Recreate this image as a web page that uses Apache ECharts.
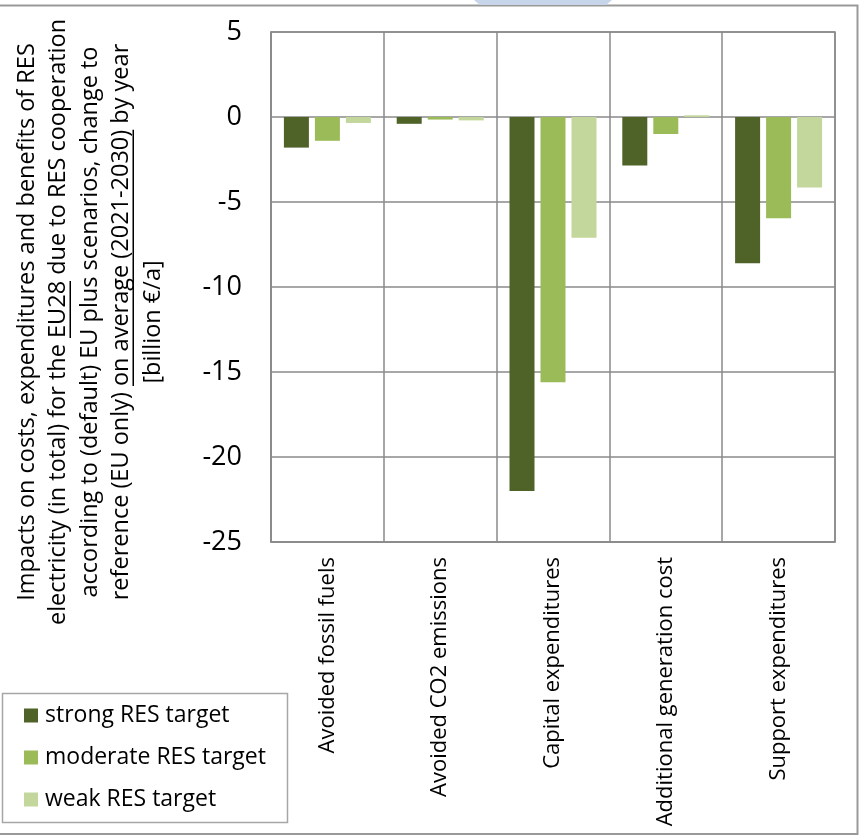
<!DOCTYPE html>
<html>
<head>
<meta charset="utf-8">
<script src="https://cdn.jsdelivr.net/npm/echarts@6/dist/echarts.min.js"></script>
<style>
  html, body { margin: 0; padding: 0; background: #ffffff; }
  #chart { width: 860px; height: 836px; }
</style>
</head>
<body>
<div id="chart"></div>
<script>
// Cost / benefit categories on the x axis
const categories = [
  'Avoided fossil fuels',
  'Avoided CO2 emissions',
  'Capital expenditures',
  'Additional generation cost',
  'Support expenditures'
];

// Scenario names (legend)
const seriesNames = ['strong RES target', 'moderate RES target', 'weak RES target'];

// Change to reference, billion €/a
const strongValues   = [-1.8, -0.4, -22.0, -2.85, -8.6];
const moderateValues = [-1.4, -0.15, -15.6, -1.0, -5.95];
const weakValues     = [-0.35, -0.2, -7.1, 0.1, -4.15];

// Value axis ticks
const yMin = -25;
const yMax = 5;
const yStep = 5;

// Axis title, one entry per line; underlined fragment per line (or null)
const titleLines = [
  'Impacts on costs, expenditures and benefits of RES',
  'electricity (in total) for the EU28 due to RES cooperation',
  'according to (default) EU plus scenarios, change to',
  'reference (EU only) on average (2021-2030) by year',
  '[billion €/a]'
];
const titleUnderlines = [null, 'EU28', null, 'on average (2021-2030)', null];

const palette = ['#4F6228', '#9BBB59', '#C3D69B'];
const FONT = '"Open Sans", "Noto Sans", sans-serif';
const GRID_COLOR = '#8a8a8a';

const chart = echarts.init(document.getElementById('chart'), null, { renderer: 'canvas' });

// Rotated multi-line axis title with underlined fragments
const titleFontSize = 23.5;
const titleFont = titleFontSize + 'px ' + FONT;
const measureCtx = document.createElement('canvas').getContext('2d');
measureCtx.font = titleFont;
const lineOffsets = [27, 58.5, 90, 121.5, 153];
const titleChildren = [];
titleLines.forEach(function (line, i) {
  const ly = lineOffsets[i];
  titleChildren.push({
    type: 'text',
    x: 0,
    y: ly,
    style: {
      text: line,
      font: titleFont,
      fill: '#000000',
      align: 'center',
      verticalAlign: 'middle'
    }
  });
  const part = titleUnderlines[i];
  if (part) {
    const full = measureCtx.measureText(line).width;
    const start = line.indexOf(part);
    const pre = measureCtx.measureText(line.slice(0, start)).width;
    const w = measureCtx.measureText(part).width;
    titleChildren.push({
      type: 'rect',
      shape: { x: -full / 2 + pre, y: ly + 11, width: w, height: 1.5 },
      style: { fill: '#000000' }
    });
  }
});

const seriesData = [strongValues, moderateValues, weakValues];

const option = {
  backgroundColor: '#ffffff',
  animation: false,
  color: palette,
  grid: {
    left: 271,
    top: 32,
    width: 564,
    height: 510,
    show: true,
    borderColor: GRID_COLOR,
    borderWidth: 1.5,
    containLabel: false
  },
  legend: {
    orient: 'vertical',
    left: 19,
    top: 699,
    padding: 5,
    itemWidth: 14,
    itemHeight: 14,
    itemGap: 19,
    icon: 'rect',
    selectedMode: false,
    textStyle: {
      fontFamily: FONT,
      fontSize: 23,
      color: '#000000',
      padding: [0, 0, 0, 2]
    },
    data: seriesNames
  },
  xAxis: {
    type: 'category',
    data: categories,
    position: 'bottom',
    boundaryGap: true,
    axisLine: { onZero: false, lineStyle: { color: GRID_COLOR, width: 1.5 } },
    axisTick: { show: false },
    splitLine: { show: true, interval: 0, lineStyle: { color: GRID_COLOR, width: 1.5 } },
    axisLabel: {
      interval: 0,
      rotate: 90,
      margin: 15,
      fontFamily: FONT,
      fontSize: 22,
      color: '#000000'
    }
  },
  yAxis: {
    type: 'value',
    min: yMin,
    max: yMax,
    interval: yStep,
    axisLine: { show: true, lineStyle: { color: GRID_COLOR, width: 1.5 } },
    axisTick: { show: false },
    splitLine: { show: true, lineStyle: { color: GRID_COLOR, width: 1.5 } },
    axisLabel: {
      margin: 29,
      fontFamily: FONT,
      fontSize: 27,
      color: '#000000'
    }
  },
  series: seriesNames.map(function (name, i) {
    return {
      name: name,
      type: 'bar',
      data: seriesData[i],
      barWidth: 25,
      barGap: '24%',
      barCategoryGap: '23%',
      itemStyle: { color: palette[i] }
    };
  }),
  graphic: [
    {
      type: 'group',
      x: 0,
      y: 322,
      rotation: Math.PI / 2,
      children: titleChildren
    },
    {
      // legend frame
      type: 'rect',
      shape: { x: 2.5, y: 693.5, width: 285, height: 129 },
      style: { fill: 'none', stroke: '#a6a6a6', lineWidth: 1.5 },
      z: -1
    },
    {
      // outer chart frame
      type: 'polyline',
      shape: { points: [[0, 5.5], [857.5, 5.5], [857.5, 834], [0, 834]] },
      style: { fill: 'none', stroke: '#999999', lineWidth: 2 }
    },
    {
      // page header ornament
      type: 'polygon',
      shape: { points: [[474, 0], [612, 0], [606, 5], [480, 5]] },
      style: { fill: '#C6D5EA' }
    }
  ]
};

chart.setOption(option);
</script>
</body>
</html>
